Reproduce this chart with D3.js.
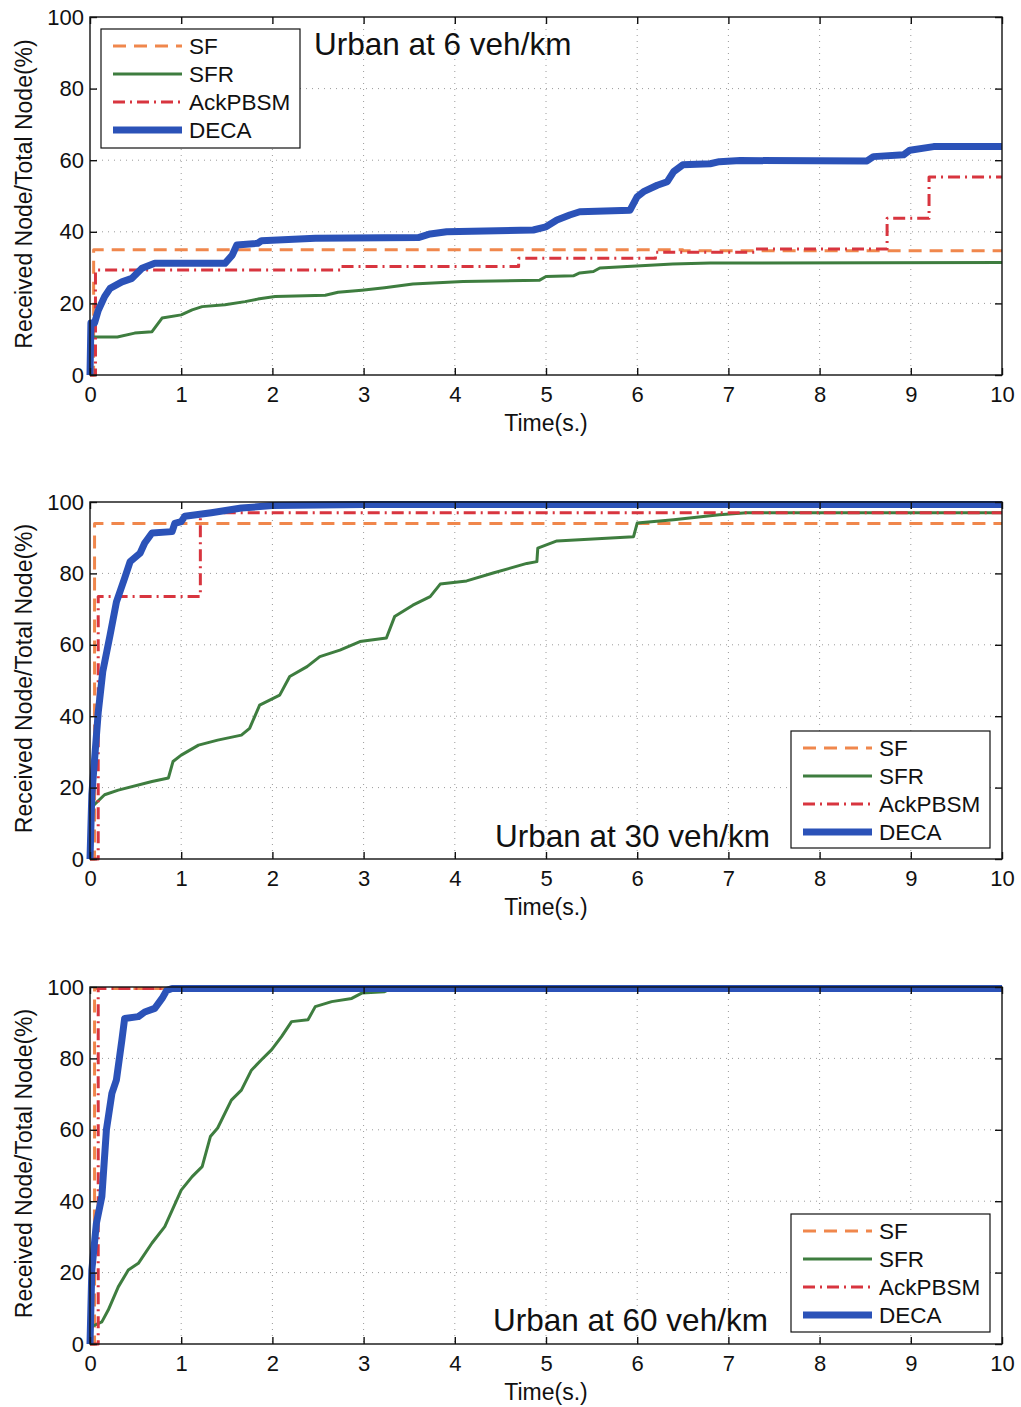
<!DOCTYPE html>
<html><head><meta charset="utf-8">
<script src="https://cdn.jsdelivr.net/npm/d3@7"></script>
<style>body{margin:0;background:#fff}svg{display:block}text{font-family:"Liberation Sans",Arial,sans-serif;fill:#111}</style>
</head><body>
<svg id="c" width="1021" height="1407"></svg>
<script>
// ---------- data ----------
const seriesNames = ["SF", "SFR", "AckPBSM", "DECA"];
const xTicks = [0,1,2,3,4,5,6,7,8,9,10];
const yTicks = [0,20,40,60,80,100];
const panelTitles = ["Urban at 6 veh/km", "Urban at 30 veh/km", "Urban at 60 veh/km"];
const xLabel = "Time(s.)";
const yLabel = "Received Node/Total Node(%)";

// Panel 1 : 6 veh/km   [time, percent]
const sf6 = [[0,0],[0.04,35],[6.5,34.7],[10,34.7]];
const sfr6 = [[0,0],[0.005,10.6],[0.3,10.6],[0.49,11.7],[0.68,12.1],[0.79,15.9],[1.0,16.8],[1.12,18.2],[1.23,19.1],[1.48,19.6],[1.7,20.5],[1.84,21.2],[2.03,21.9],[2.58,22.3],[2.72,23.1],[2.98,23.7],[3.23,24.4],[3.54,25.4],[4.09,26.1],[4.93,26.5],[5.0,27.5],[5.3,27.7],[5.37,28.5],[5.52,28.9],[5.59,29.9],[5.89,30.3],[6.39,31.0],[6.8,31.3],[10,31.4]];
const ack6 = [[0,0],[0.06,29.3],[2.75,30.3],[4.7,32.6],[6.2,34.3],[7.3,35.2],[8.74,43.8],[9.2,55.3],[10,55.3]];
const deca6 = [[0,0],[0.01,14.5],[0.05,14.5],[0.09,18],[0.16,21.9],[0.22,24.2],[0.35,26],[0.46,27],[0.57,29.8],[0.71,31.2],[1.48,31.2],[1.56,33.5],[1.61,36.3],[1.84,36.8],[1.88,37.5],[2.47,38.2],[3.6,38.4],[3.73,39.4],[3.91,40],[4.86,40.5],[5.0,41.4],[5.12,43.3],[5.26,44.7],[5.37,45.6],[5.92,46],[6.0,49.8],[6.07,51.2],[6.22,53],[6.33,54],[6.4,56.8],[6.5,58.7],[6.8,59],[6.9,59.6],[7.13,59.9],[8.52,59.8],[8.59,61],[8.92,61.5],[8.99,62.8],[9.25,63.8],[10,63.8]];

// Panel 2 : 30 veh/km
const sf30 = [[0,0],[0.05,94],[10,94]];
const sfr30 = [[0,0],[0.01,14.3],[0.16,18],[0.31,19.3],[0.68,21.7],[0.86,22.7],[0.91,27.3],[1.0,29.1],[1.19,31.9],[1.4,33.3],[1.66,34.7],[1.75,36.6],[1.86,43.1],[2.08,45.9],[2.19,51.1],[2.38,53.9],[2.52,56.7],[2.74,58.5],[2.96,60.9],[3.25,61.9],[3.34,67.9],[3.54,71.1],[3.73,73.5],[3.84,77],[4.13,77.9],[4.42,80.1],[4.79,82.8],[4.9,83.3],[4.91,87.1],[5.12,89.1],[5.96,90.3],[6.0,94.1],[6.4,95],[6.9,96.4],[7.2,97],[10,97]];
const ack30 = [[0,0],[0.09,73.5],[1.21,97],[10,97]];
const deca30 = [[0,0],[0.02,18],[0.09,41],[0.14,52.5],[0.22,62.7],[0.29,72],[0.38,78.7],[0.44,83.3],[0.55,85.7],[0.6,88.5],[0.68,91.3],[0.9,91.7],[0.93,94],[1.0,94.5],[1.04,96],[1.33,97],[1.66,98.3],[2.0,99],[3.0,99.3],[10,99.3]];

// Panel 3 : 60 veh/km
const sf60 = [[0,0],[0.05,99.6],[10,99.6]];
const sfr60 = [[0,0],[0.005,1.6],[0.02,4.9],[0.13,6.2],[0.2,9.5],[0.31,16],[0.42,20.7],[0.53,22.6],[0.68,28.3],[0.82,32.9],[1.0,43.1],[1.12,46.9],[1.23,49.7],[1.32,58.1],[1.4,60.5],[1.55,68.3],[1.66,71.1],[1.77,76.7],[1.88,79.6],[1.99,82.4],[2.1,86.1],[2.21,90.3],[2.39,90.8],[2.47,94.5],[2.65,95.9],[2.87,96.8],[2.98,98.3],[3.23,98.7],[3.3,99.6],[10,99.6]];
const ack60 = [[0,0],[0.09,99.6],[10,99.6]];
const deca60 = [[0,0],[0.02,20.7],[0.07,33.8],[0.13,41.3],[0.18,60],[0.24,70.2],[0.29,74],[0.35,85.2],[0.38,91.2],[0.53,91.7],[0.6,93],[0.71,94],[0.79,96.8],[0.84,99],[0.9,99.6],[10,99.6]];

const panelData = [
  [sf6, sfr6, ack6, deca6],
  [sf30, sfr30, ack30, deca30],
  [sf60, sfr60, ack60, deca60]
];

// ---------- styles / layout ----------
const styles = [
  {color:"#f0874c", width:3, dash:"13,8", step:true},
  {color:"#3e7d3f", width:3, dash:null, step:false},
  {color:"#d8353f", width:3, dash:"12,5,2,5", step:true},
  {color:"#2b52b8", width:7, dash:null, step:false}
];
const X0 = 90, X1 = 1002;
const panels = [
  {top:17, bottom:375, tx:314, ty:55, lx:101, ly:29, lh:119},
  {top:502, bottom:859, tx:495, ty:847, lx:791, ly:731, lh:117},
  {top:987, bottom:1344, tx:493, ty:1331, lx:791, ly:1214, lh:118}
];
const FS = 22;

const svg = d3.select("#c");
svg.append("rect").attr("width",1021).attr("height",1407).attr("fill","#fff");

panels.forEach((p, pi) => {
  const x = d3.scaleLinear().domain([0,10]).range([X0, X1]);
  const y = d3.scaleLinear().domain([0,100]).range([p.bottom, p.top]);
  const g = svg.append("g");

  // grid
  const grid = g.append("g").attr("stroke","#9a9a9a").attr("stroke-width",1).attr("stroke-dasharray","1,5");
  xTicks.slice(1,-1).forEach(t => grid.append("line").attr("x1",x(t)).attr("x2",x(t)).attr("y1",p.top).attr("y2",p.bottom));
  yTicks.slice(1,-1).forEach(v => grid.append("line").attr("x1",X0).attr("x2",X1).attr("y1",y(v)).attr("y2",y(v)));

  // lines
  const clipId = "clip"+pi;
  svg.append("clipPath").attr("id",clipId).append("rect")
    .attr("x",X0-4).attr("y",p.top-4).attr("width",X1-X0+8).attr("height",p.bottom-p.top+8);
  const lg = g.append("g").attr("clip-path",`url(#${clipId})`);
  panelData[pi].forEach((d, si) => {
    const s = styles[si];
    const line = d3.line().x(e => x(e[0])).y(e => y(e[1])).curve(s.step ? d3.curveStepAfter : d3.curveLinear);
    lg.append("path").datum(d).attr("d", line).attr("fill","none")
      .attr("stroke", s.color).attr("stroke-width", s.width)
      .attr("stroke-dasharray", s.dash).attr("stroke-linejoin","round");
  });

  // axes
  const ax = g.append("g").attr("transform",`translate(0,${p.bottom})`)
    .call(d3.axisBottom(x).tickValues(xTicks).tickFormat(d3.format("d")).tickSize(-7).tickPadding(11));
  const ay = g.append("g").attr("transform",`translate(${X0},0)`)
    .call(d3.axisLeft(y).tickValues(yTicks).tickFormat(d3.format("d")).tickSize(-7).tickPadding(6));
  const axt = g.append("g").attr("transform",`translate(0,${p.top})`)
    .call(d3.axisTop(x).tickValues(xTicks).tickFormat("").tickSize(-7));
  const ayr = g.append("g").attr("transform",`translate(${X1},0)`)
    .call(d3.axisRight(y).tickValues(yTicks).tickFormat("").tickSize(-7));
  [ax, ay, axt, ayr].forEach(a => {
    a.select(".domain").remove();
    a.selectAll("line").attr("stroke","#111").attr("stroke-width",1.4);
    a.selectAll("text").attr("font-size",FS).attr("font-family","Liberation Sans, Arial, sans-serif").attr("fill","#111");
  });
  g.append("rect").attr("x",X0).attr("y",p.top).attr("width",X1-X0).attr("height",p.bottom-p.top)
    .attr("fill","none").attr("stroke","#111").attr("stroke-width",1.4);

  // labels
  g.append("text").attr("x",(X0+X1)/2).attr("y",p.bottom+56).attr("text-anchor","middle")
    .attr("font-size",23).text(xLabel);
  g.append("text").attr("transform",`translate(32,${(p.top+p.bottom)/2 - 2}) rotate(-90)`)
    .attr("text-anchor","middle").attr("font-size",23).text(yLabel);

  // title
  g.append("text").attr("x",p.tx).attr("y",p.ty).attr("font-size",31.5).text(panelTitles[pi]);

  // legend
  const lw = 199;
  const leg = g.append("g").attr("transform",`translate(${p.lx},${p.ly})`);
  leg.append("rect").attr("width",lw).attr("height",p.lh).attr("fill","#fff").attr("stroke","#111").attr("stroke-width",1.2);
  seriesNames.forEach((n, i) => {
    const s = styles[i];
    const yy = 17 + i * 28;
    leg.append("line").attr("x1",12).attr("x2",81).attr("y1",yy).attr("y2",yy)
      .attr("stroke", s.color).attr("stroke-width", s.width).attr("stroke-dasharray", s.dash);
    leg.append("text").attr("x",88).attr("y",yy).attr("dy","0.35em").attr("font-size",22.5).text(n);
  });
});
</script>
</body></html>
